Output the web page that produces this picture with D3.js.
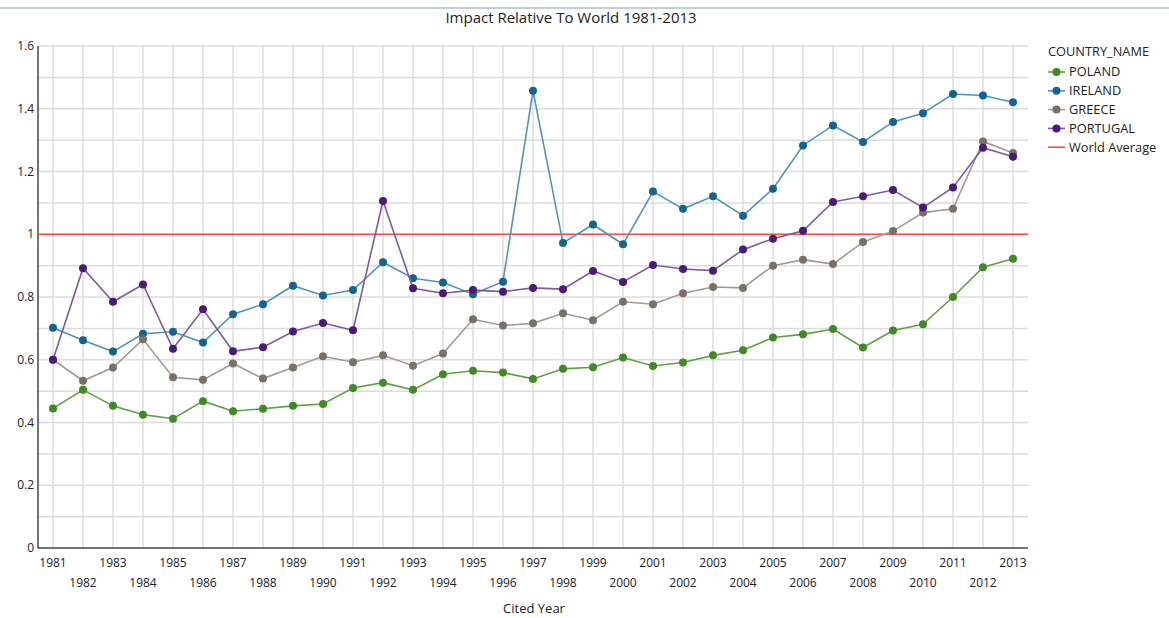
<!DOCTYPE html>
<html lang="en">
<head>
<meta charset="UTF-8">
<script src="https://cdn.jsdelivr.net/npm/d3@7"></script>
<title>Impact Relative To World 1981-2013</title>
<style>
  body { margin: 0; background: #fff; font-family: "Open Sans", "Noto Sans", sans-serif; }
  svg text { fill: #222; }
</style>
</head>
<body>
<div id="chart"></div>
<script>
// data
const years = d3.range(1981, 2014);
const poland = [0.445, 0.504, 0.453, 0.425, 0.412, 0.468, 0.436, 0.444, 0.453, 0.459, 0.510, 0.527, 0.504, 0.554, 0.565, 0.559, 0.539, 0.571, 0.576, 0.607, 0.580, 0.591, 0.614, 0.630, 0.671, 0.681, 0.698, 0.639, 0.693, 0.713, 0.800, 0.895, 0.922];
const ireland = [0.702, 0.662, 0.626, 0.683, 0.689, 0.655, 0.745, 0.777, 0.836, 0.805, 0.822, 0.911, 0.860, 0.846, 0.809, 0.849, 1.457, 0.972, 1.031, 0.968, 1.136, 1.081, 1.121, 1.059, 1.145, 1.283, 1.347, 1.294, 1.358, 1.386, 1.447, 1.442, 1.421];
const greece = [0.600, 0.533, 0.575, 0.665, 0.544, 0.536, 0.588, 0.540, 0.575, 0.611, 0.592, 0.614, 0.581, 0.620, 0.729, 0.709, 0.716, 0.748, 0.726, 0.785, 0.777, 0.812, 0.832, 0.829, 0.900, 0.919, 0.905, 0.975, 1.010, 1.069, 1.081, 1.296, 1.259];
const portugal = [0.600, 0.892, 0.785, 0.840, 0.635, 0.761, 0.627, 0.640, 0.690, 0.717, 0.694, 1.106, 0.828, 0.812, 0.822, 0.817, 0.829, 0.825, 0.883, 0.848, 0.902, 0.889, 0.884, 0.951, 0.986, 1.011, 1.103, 1.121, 1.141, 1.085, 1.149, 1.276, 1.247];
const worldAverage = 1;
const yTicks = [0, 0.2, 0.4, 0.6, 0.8, 1, 1.2, 1.4, 1.6];

const series = [
  { name: 'POLAND', values: poland, dot: '#3f8a22', line: '#5f9f45' },
  { name: 'IRELAND', values: ireland, dot: '#11658f', line: '#4f94b8' },
  { name: 'GREECE', values: greece, dot: '#7a7066', line: '#a29a92' },
  { name: 'PORTUGAL', values: portugal, dot: '#4a1a78', line: '#7e5aa2' }
];

const width = 1169, height = 618;
const plotL = 38, plotR = 1028, plotT = 46, plotB = 548;

const svg = d3.select('#chart').append('svg')
  .attr('width', width).attr('height', height);

// thin top rule
svg.append('line')
  .attr('x1', 0).attr('x2', width).attr('y1', 8).attr('y2', 8)
  .attr('stroke', '#a9bcd6').attr('stroke-width', 1.5);

const x = d3.scalePoint().domain(years).range([plotL, plotR]).padding(0.5);
const y = d3.scaleLinear().domain([0, 1.6]).range([plotB, plotT]);

// grid
svg.append('g').selectAll('line')
  .data(d3.range(1, 17).map(d => d / 10))
  .join('line')
  .attr('x1', plotL).attr('x2', plotR)
  .attr('y1', d => y(d)).attr('y2', d => y(d))
  .attr('stroke', '#dcdcdc').attr('stroke-width', 1.5);
svg.append('g').selectAll('line')
  .data(years)
  .join('line')
  .attr('x1', d => x(d)).attr('x2', d => x(d))
  .attr('y1', plotT).attr('y2', plotB)
  .attr('stroke', '#dcdcdc').attr('stroke-width', 1.5);

// axes
svg.append('line').attr('x1', plotL).attr('x2', plotL).attr('y1', plotT).attr('y2', plotB)
  .attr('stroke', '#444').attr('stroke-width', 1.5);
svg.append('line').attr('x1', plotL).attr('x2', plotR).attr('y1', plotB).attr('y2', plotB)
  .attr('stroke', '#444').attr('stroke-width', 1.5);

svg.append('g').selectAll('text')
  .data(yTicks)
  .join('text')
  .attr('x', plotL - 4).attr('y', d => y(d))
  .attr('dy', '0.35em')
  .attr('text-anchor', 'end')
  .style('font-size', '12px')
  .text(d => d3.format('~g')(d));

svg.append('g').selectAll('text')
  .data(years)
  .join('text')
  .attr('x', d => x(d))
  .attr('y', (d, i) => i % 2 === 0 ? 567 : 587)
  .attr('text-anchor', 'middle')
  .style('font-size', '12px')
  .text(d => d);

svg.append('text')
  .attr('x', 534).attr('y', 613)
  .attr('text-anchor', 'middle')
  .style('font-size', '13px')
  .text('Cited Year');

svg.append('text')
  .attr('x', 571).attr('y', 23)
  .attr('text-anchor', 'middle')
  .style('font-size', '15px')
  .text('Impact Relative To World 1981-2013');

// world average
svg.append('line')
  .attr('x1', plotL).attr('x2', plotR)
  .attr('y1', y(worldAverage)).attr('y2', y(worldAverage))
  .attr('stroke', '#ff4a4a').attr('stroke-width', 1.5);

// series
const line = d3.line().x((d, i) => x(years[i])).y(d => y(d));
series.forEach(s => {
  svg.append('path')
    .datum(s.values)
    .attr('d', line)
    .attr('fill', 'none')
    .attr('stroke', s.line)
    .attr('stroke-width', 1.6);
  svg.append('g').selectAll('circle')
    .data(s.values)
    .join('circle')
    .attr('cx', (d, i) => x(years[i]))
    .attr('cy', d => y(d))
    .attr('r', 4)
    .attr('fill', s.dot);
});

// legend
const lg = svg.append('g').attr('transform', 'translate(1048,0)');
lg.append('text').attr('x', 0).attr('y', 56).style('font-size', '12.8px').text('COUNTRY_NAME');
const items = series.map(s => ({ name: s.name, color: s.dot, line: s.line, dot: true }))
  .concat([{ name: 'World Average', color: '#ff4a4a', line: '#ff4a4a', dot: false }]);
const item = lg.selectAll('g.item').data(items).join('g')
  .attr('class', 'item')
  .attr('transform', (d, i) => `translate(0, ${72 + i * 18.8})`);
item.append('line')
  .attr('x1', 0).attr('x2', 17).attr('y1', 0).attr('y2', 0)
  .attr('stroke', d => d.line).attr('stroke-width', 1.6);
item.filter(d => d.dot).append('circle')
  .attr('cx', 8.5).attr('cy', 0).attr('r', 4).attr('fill', d => d.color);
item.append('text')
  .attr('x', 21).attr('dy', '0.35em')
  .style('font-size', '12.8px')
  .text(d => d.name);
</script>
</body>
</html>
